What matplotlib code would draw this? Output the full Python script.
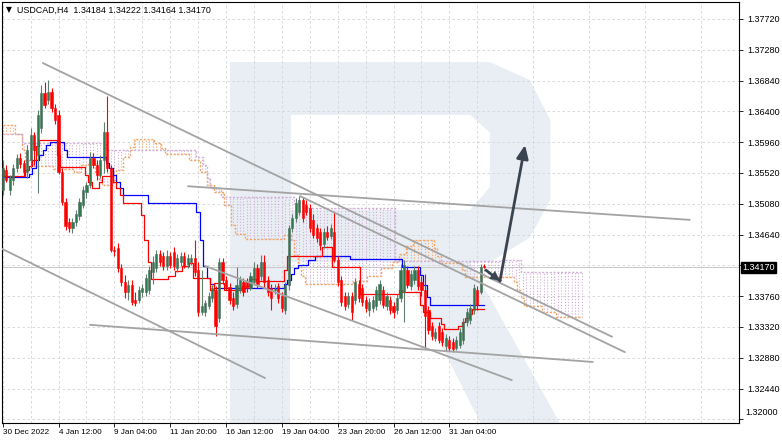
import matplotlib
matplotlib.use('Agg')
import matplotlib.pyplot as plt
import matplotlib.transforms as mtransforms
from matplotlib.patches import Polygon
import numpy as np

plt.rcParams['font.family'] = ['Liberation Sans', 'DejaVu Sans']

# USDCAD H4 candles (30 Dec 2022 .. 31 Jan 2023)
opens = [1.3528, 1.3556, 1.3528, 1.3542, 1.3559, 1.3573, 1.3566, 1.3553, 1.3571, 1.3606,
         1.3578, 1.3616, 1.3666, 1.3656, 1.3668, 1.3645, 1.3635, 1.3553, 1.3511, 1.3482,
         1.3473, 1.3482, 1.3491, 1.3506, 1.3525, 1.3535, 1.3573, 1.3563, 1.3549, 1.3571,
         1.3611, 1.3559, 1.3442, 1.3445, 1.3416, 1.3396, 1.3382, 1.3392, 1.3371, 1.3371,
         1.3382, 1.3382, 1.3385, 1.3411, 1.3416, 1.3436, 1.3433, 1.3419, 1.3433, 1.3439,
         1.3416, 1.3425, 1.3433, 1.3422, 1.3425, 1.3431, 1.3413, 1.3353, 1.3353, 1.3362,
         1.3373, 1.3385, 1.3345, 1.3425, 1.3399, 1.3389, 1.3373, 1.3365, 1.3385, 1.3396,
         1.3396, 1.3388, 1.3396, 1.3416, 1.3405, 1.3425, 1.3399, 1.3388, 1.3385, 1.3391,
         1.3376, 1.3356, 1.3392, 1.3473, 1.3488, 1.3496, 1.3513, 1.3506, 1.3502, 1.3485,
         1.3473, 1.3468, 1.3451, 1.3468, 1.3462, 1.3468, 1.3428, 1.3399, 1.3376, 1.3365,
         1.3376, 1.3371, 1.3393, 1.3388, 1.3371, 1.3356, 1.3359, 1.3362, 1.3371, 1.3385,
         1.3362, 1.3371, 1.3362, 1.3356, 1.3373, 1.3382, 1.3413, 1.3391, 1.3399, 1.3413,
         1.3396, 1.3385, 1.3356, 1.3333, 1.3316, 1.3333, 1.3325, 1.3305, 1.3313, 1.3311,
         1.3302, 1.3306, 1.3313, 1.3339, 1.3342, 1.3356, 1.3385, 1.3382, 1.34184]
highs = [1.3571, 1.3563, 1.3549, 1.3565, 1.3579, 1.3581, 1.3571, 1.3592, 1.3616, 1.3611,
         1.3642, 1.3678, 1.3682, 1.3685, 1.3673, 1.3651, 1.3642, 1.3559, 1.3516, 1.3488,
         1.3488, 1.3499, 1.3516, 1.3533, 1.3539, 1.3582, 1.3581, 1.3571, 1.3578, 1.3625,
         1.3662, 1.3563, 1.3448, 1.3452, 1.3422, 1.3406, 1.3399, 1.3399, 1.3382, 1.3391,
         1.3393, 1.3408, 1.3419, 1.3433, 1.3442, 1.3442, 1.3439, 1.3442, 1.3439, 1.3446,
         1.3436, 1.3439, 1.3439, 1.3436, 1.3436, 1.3456, 1.3425, 1.3413, 1.3371, 1.3382,
         1.3392, 1.3391, 1.3431, 1.3431, 1.3405, 1.3395, 1.3382, 1.3418, 1.3405, 1.3402,
         1.3402, 1.3411, 1.3425, 1.3422, 1.3435, 1.3435, 1.3405, 1.3393, 1.3393, 1.3395,
         1.3382, 1.3396, 1.3478, 1.3493, 1.3516, 1.3519, 1.3518, 1.3513, 1.3508, 1.3493,
         1.3479, 1.3473, 1.3473, 1.3476, 1.3479, 1.3496, 1.3433, 1.3405, 1.3382, 1.3382,
         1.3382, 1.3402, 1.3399, 1.3393, 1.3376, 1.3373, 1.3376, 1.3391, 1.3399, 1.3391,
         1.3382, 1.3376, 1.3368, 1.3379, 1.3422, 1.3428, 1.3419, 1.3413, 1.3419, 1.3419,
         1.3405, 1.3408, 1.3362, 1.3339, 1.3331, 1.3339, 1.3331, 1.3322, 1.3319, 1.3316,
         1.3319, 1.3331, 1.3345, 1.3359, 1.3365, 1.3393, 1.3391, 1.3422, 1.34222]
lows = [1.3521, 1.3539, 1.3521, 1.3535, 1.3553, 1.3559, 1.3548, 1.3545, 1.3559, 1.3563,
        1.3523, 1.3609, 1.3645, 1.3651, 1.3639, 1.3622, 1.3551, 1.3506, 1.3471, 1.3468,
        1.3466, 1.3476, 1.3485, 1.3502, 1.3516, 1.3531, 1.3559, 1.3542, 1.3545, 1.3552,
        1.3553, 1.3439, 1.3433, 1.3411, 1.3391, 1.3373, 1.3371, 1.3363, 1.3362, 1.3366,
        1.3375, 1.3376, 1.3379, 1.3393, 1.3411, 1.3419, 1.3413, 1.3413, 1.3416, 1.3413,
        1.3411, 1.3419, 1.3416, 1.3416, 1.3421, 1.3405, 1.3348, 1.3349, 1.3348, 1.3358,
        1.3368, 1.3319, 1.3339, 1.3393, 1.3385, 1.3365, 1.3356, 1.3359, 1.3381, 1.3376,
        1.3382, 1.3385, 1.3392, 1.3388, 1.3399, 1.3388, 1.3376, 1.3356, 1.3379, 1.3366,
        1.3353, 1.3351, 1.3385, 1.3468, 1.3482, 1.3492, 1.3482, 1.3492, 1.3468, 1.3459,
        1.3453, 1.3442, 1.3445, 1.3456, 1.3458, 1.3425, 1.3391, 1.3362, 1.3356, 1.3359,
        1.3342, 1.3365, 1.3368, 1.3362, 1.3353, 1.3348, 1.3353, 1.3356, 1.3365, 1.3359,
        1.3356, 1.3351, 1.3345, 1.3351, 1.3368, 1.3339, 1.3388, 1.3385, 1.3393, 1.3385,
        1.3376, 1.3302, 1.3322, 1.3313, 1.3312, 1.3309, 1.3305, 1.3299, 1.3298, 1.3296,
        1.3299, 1.3302, 1.3308, 1.3333, 1.3336, 1.3351, 1.3356, 1.3379, 1.34164]
closes = [1.3559, 1.3542, 1.3545, 1.3559, 1.3573, 1.3565, 1.3553, 1.3585, 1.3606, 1.3585,
          1.3635, 1.3666, 1.3649, 1.3668, 1.3645, 1.3628, 1.3553, 1.3511, 1.3476, 1.3473,
          1.3482, 1.3493, 1.3511, 1.3528, 1.3535, 1.3573, 1.3563, 1.3549, 1.3571, 1.3611,
          1.3559, 1.3442, 1.3441, 1.3416, 1.3396, 1.3382, 1.3392, 1.3368, 1.3366, 1.3385,
          1.3388, 1.3402, 1.3413, 1.3425, 1.3436, 1.3425, 1.3419, 1.3433, 1.3421, 1.3419,
          1.3431, 1.3433, 1.3419, 1.3431, 1.3431, 1.3411, 1.3353, 1.3362, 1.3366, 1.3376,
          1.3388, 1.3333, 1.3425, 1.3399, 1.3389, 1.3371, 1.3362, 1.3392, 1.3399, 1.3382,
          1.3388, 1.3405, 1.3416, 1.3393, 1.3425, 1.3396, 1.3382, 1.3373, 1.3386, 1.3373,
          1.3359, 1.3392, 1.3473, 1.3488, 1.3509, 1.3513, 1.3488, 1.3496, 1.3473, 1.3463,
          1.3459, 1.3449, 1.3468, 1.3461, 1.3473, 1.3428, 1.3396, 1.3368, 1.3362, 1.3376,
          1.3353, 1.3396, 1.3373, 1.3368, 1.3359, 1.3368, 1.3371, 1.3385, 1.3393, 1.3363,
          1.3376, 1.3356, 1.3353, 1.3373, 1.3413, 1.3421, 1.3392, 1.3408, 1.3413, 1.3391,
          1.3385, 1.3348, 1.3328, 1.3319, 1.3325, 1.3313, 1.3311, 1.3316, 1.3302, 1.3301,
          1.3313, 1.3325, 1.3339, 1.3353, 1.3359, 1.3388, 1.3363, 1.3418, 1.34170]

date_bars = [0, 16, 32, 48, 64, 80, 96, 112, 128]
date_labels = ['30 Dec 2022', '4 Jan 12:00', '9 Jan 04:00', '11 Jan 20:00', '16 Jan 12:00',
               '19 Jan 04:00', '23 Jan 20:00', '26 Jan 12:00', '31 Jan 04:00']
price_ticks = [1.32440, 1.32880, 1.33320, 1.33760, 1.34200, 1.34640, 1.35080,
               1.35520, 1.35960, 1.36400, 1.36840, 1.37280, 1.37720]
last_price = 1.34170

# Ichimoku lines as (number of bars, value) runs
tenkan_runs = [(1, 1.3556), (6, 1.3548), (1, 1.3556), (1, 1.3562), (1, 1.3571), (1, 1.3591),
               (5, 1.3599), (1, 1.3578), (7, 1.3561), (1, 1.3549), (1, 1.3539), (2, 1.3531),
               (1, 1.3539), (3, 1.3548), (1, 1.3539), (1, 1.3531), (1, 1.3521), (5, 1.3509),
               (1, 1.3492), (1, 1.3456), (1, 1.3425), (5, 1.3401), (2, 1.3405), (2, 1.3412),
               (2, 1.3419), (1, 1.3423), (5, 1.3402), (1, 1.3385), (3, 1.3395), (5, 1.3385),
               (2, 1.3391), (2, 1.3401), (8, 1.3398), (1, 1.3413), (10, 1.3433), (3, 1.3446),
               (8, 1.3418), (11, 1.3379), (1, 1.3385), (5, 1.3382), (1, 1.3363), (2, 1.3353),
               (3, 1.3345), (1, 1.3336), (4, 1.3329), (1, 1.3333), (1, 1.3339), (1, 1.3345),
               (1, 1.3351), (4, 1.3358)]
kijun_runs = [(8, 1.3546), (1, 1.3551), (1, 1.3559), (1, 1.3571), (1, 1.3578), (1, 1.3585),
              (1, 1.3592), (4, 1.3596), (1, 1.3585), (11, 1.3575), (1, 1.3566), (1, 1.3559),
              (1, 1.3549), (1, 1.3539), (1, 1.3531), (7, 1.3521), (14, 1.3509), (1, 1.3496),
              (1, 1.3456), (1, 1.3419), (1, 1.3402), (1, 1.3393), (20, 1.3388), (1, 1.3393),
              (1, 1.3399), (1, 1.3408), (1, 1.3416), (3, 1.3421), (2, 1.3428), (10, 1.3433),
              (15, 1.3429), (5, 1.3418), (1, 1.3406), (1, 1.3392), (1, 1.3375), (16, 1.3363)]
span_a_runs = [(4, 1.3621), (2, 1.3608), (1, 1.3585), (2, 1.3571), (6, 1.3562), (6, 1.3558),
               (2, 1.3553), (2, 1.3563), (2, 1.3568), (1, 1.3553), (1, 1.3542), (3, 1.3535),
               (1, 1.3542), (2, 1.3556), (2, 1.3575), (1, 1.3589), (6, 1.3600), (2, 1.3595),
               (1, 1.3588), (7, 1.3579), (3, 1.3571), (2, 1.3553), (2, 1.3535), (3, 1.3525),
               (2, 1.3506), (1, 1.3478), (3, 1.3465), (11, 1.3458), (2, 1.3463), (1, 1.3456),
               (1, 1.3435), (1, 1.3419), (1, 1.3405), (14, 1.3393), (4, 1.3398), (4, 1.3405),
               (3, 1.3416), (2, 1.3425), (2, 1.3436), (2, 1.3448), (6, 1.3456), (1, 1.3445),
               (1, 1.3433), (6, 1.3423), (1, 1.3413), (14, 1.3403), (1, 1.3396), (1, 1.3385),
               (1, 1.3373), (5, 1.3362), (4, 1.3353), (8, 1.3346)]
span_b_runs = [(6, 1.3608), (24, 1.3595), (26, 1.3585), (2, 1.3575), (1, 1.3563), (1, 1.3545),
               (3, 1.3531), (21, 1.3518), (3, 1.3509), (26, 1.3502), (30, 1.3426), (6, 1.3428),
               (18, 1.3411)]

# hand-drawn analysis lines: (bar, price) -> (bar, price)
trend_lines = [((11.5, 1.3709), (174.6, 1.3318)),
               ((85.2, 1.3519), (178.3, 1.3296)),
               ((53.1, 1.3533), (196.9, 1.3485)),
               ((-0.8, 1.3445), (75.2, 1.3259)),
               ((25.0, 1.3335), (169.1, 1.3282)),
               ((58.0, 1.3419), (145.9, 1.3256))]
arrow_pts = [(138.5, 1.3413), (142.5, 1.3398), (149.7, 1.3592)]


def expand(runs):
    return np.concatenate([np.full(n, v) for n, v in runs])


fig = plt.figure(figsize=(7.82, 4.42), dpi=100)
ax = fig.add_axes([2 / 782, 19 / 442, 737 / 782, 421 / 442])
ax.set_xlim(-0.2, 211.0)
ax.set_ylim(1.31948, 1.37962)

# watermark "R"
wm = '#e9eef4'
ax.add_patch(Polygon([(0.309, 0.857), (0.391, 0.857), (0.391, 0.0), (0.309, 0.0)],
                     closed=True, transform=ax.transAxes, fc=wm, ec='none', zorder=0.5))
ax.add_patch(Polygon([(0.39, 0.857), (0.662, 0.857), (0.716, 0.815), (0.744, 0.72),
                      (0.744, 0.53), (0.716, 0.44), (0.662, 0.382), (0.39, 0.382)],
                     closed=True, transform=ax.transAxes, fc=wm, ec='none', zorder=0.5))
ax.add_patch(Polygon([(0.392, 0.732), (0.635, 0.732), (0.662, 0.69), (0.662, 0.56),
                      (0.635, 0.506), (0.392, 0.506)],
                     closed=True, transform=ax.transAxes, fc='white', ec='none', zorder=0.6))
ax.add_patch(Polygon([(0.540, 0.382), (0.635, 0.382), (0.757, 0.0), (0.649, 0.0)],
                     closed=True, transform=ax.transAxes, fc=wm, ec='none', zorder=0.5))

# grid
ax.set_xticks(date_bars)
ax.set_xticks(np.arange(8, 211, 16), minor=True)
ax.set_yticks(price_ticks + [1.32000])
ax.grid(True, which='both', color='#d4d4d4', lw=0.6, ls=(0, (3, 3)), zorder=1)

# cloud
span_a = expand(span_a_runs)
span_b = expand(span_b_runs)
cx = np.arange(len(span_a))
bull = span_a >= span_b
ax.vlines(cx[bull], span_b[bull], span_a[bull], colors='#f4a460', lw=0.8,
          linestyles=(0, (1, 1.6)), zorder=2)
ax.vlines(cx[~bull], span_a[~bull], span_b[~bull], colors='#d2afd6', lw=0.8,
          linestyles=(0, (1, 1.6)), zorder=2)
ax.plot(cx, span_a, color='#f4a460', lw=1.0, ls=(0, (1.5, 1.2)), drawstyle='steps-mid', zorder=2.5)
ax.plot(cx, span_b, color='#d2afd6', lw=1.0, ls=(0, (1.5, 1.2)), drawstyle='steps-mid', zorder=2.5)

# tenkan / kijun
tenkan = expand(tenkan_runs)
kijun = expand(kijun_runs)
ax.plot(np.arange(len(kijun)), kijun, color='#0000ff', lw=0.9, drawstyle='steps-mid', zorder=3.5)
ax.plot(np.arange(len(tenkan)), tenkan, color='#ff0000', lw=0.9, drawstyle='steps-mid', zorder=3.5)

# candles
o = np.array(opens)
h = np.array(highs)
l = np.array(lows)
c = np.array(closes)
x = np.arange(len(c))
up = c >= o
body = np.where(np.abs(c - o) < 0.00008, np.sign(c - o + 1e-9) * 0.00008, c - o)
ax.vlines(x[up], l[up], h[up], colors='#62806f', lw=0.8, zorder=4)
ax.vlines(x[~up], l[~up], h[~up], colors='#ff0000', lw=0.8, zorder=4)
ax.bar(x[up], body[up], bottom=o[up], width=0.62, color='#2e7a4e', edgecolor='#4f6e5d',
       lw=0.4, zorder=4.2)
ax.bar(x[~up], body[~up], bottom=o[~up], width=0.62, color='#ff0000', edgecolor='#ff0000',
       lw=0.4, zorder=4.2)

# current price line
ax.axhline(last_price, color='#c8c8c8', lw=0.7, zorder=1.5)

# trend lines
for (x0, y0), (x1, y1) in trend_lines:
    ax.plot([x0, x1], [y0, y1], color='#a3a3a3', lw=1.3, solid_capstyle='round', zorder=4.5)

# forecast arrow
(ax0, ay0), (ax1, ay1), (ax2, ay2) = arrow_pts
ax.plot([ax0, ax1], [ay0, ay1], color='#3a4451', lw=2.0, zorder=5)
ax.annotate('', xy=(ax1, ay1), xytext=(ax0 + 0.5, ay0 - 0.0002),
            arrowprops=dict(arrowstyle='-|>,head_length=0.7,head_width=0.35', color='#3a4451',
                            lw=0.1, shrinkA=0, shrinkB=0), zorder=5)
ax.annotate('', xy=(ax2, ay2), xytext=(ax1, ay1),
            arrowprops=dict(arrowstyle='-|>,head_length=0.8,head_width=0.35', color='#3a4451',
                            lw=2.0, shrinkA=0, shrinkB=0), zorder=5)

# axes cosmetics
for s in ax.spines.values():
    s.set_color('black')
    s.set_linewidth(0.8)
ax.yaxis.tick_right()
# the 1.34200 label is hidden behind the current-price tag, as on the terminal
ylabels = ['' if abs(v - 1.342) < 1e-6 else '%.5f' % v for v in price_ticks] + ['']
ax.set_yticklabels(ylabels, fontsize=6.5)
ax.set_xticklabels(date_labels, fontsize=5.9, ha='left')
ax.tick_params(axis='both', which='major', length=3, width=0.6, color='black', pad=1.5)
ax.tick_params(axis='x', which='minor', length=0)
ax.tick_params(axis='y', pad=3)
ax.text(1.0 + 6 / 737, 1.32105, '1.32000', transform=mtransforms.blended_transform_factory(ax.transAxes, ax.transData),
        fontsize=6.5, va='center', ha='left')

# last price tag
ax.text(1.0 + 3 / 737, last_price, '1.34170',
        transform=mtransforms.blended_transform_factory(ax.transAxes, ax.transData),
        fontsize=6.5, va='center', ha='left', color='white',
        bbox=dict(boxstyle='square,pad=0.15', fc='black', ec='black'), zorder=10, clip_on=False)

# header
ax.text(0.005, 0.981, '\u25bc', transform=ax.transAxes, fontsize=5.5, va='center', ha='left',
        family=['DejaVu Sans'])
ax.text(0.021, 0.981, 'USDCAD,H4  1.34184 1.34222 1.34164 1.34170', transform=ax.transAxes,
        fontsize=6.4, va='center', ha='left')

fig.savefig('out.png', dpi=100)
